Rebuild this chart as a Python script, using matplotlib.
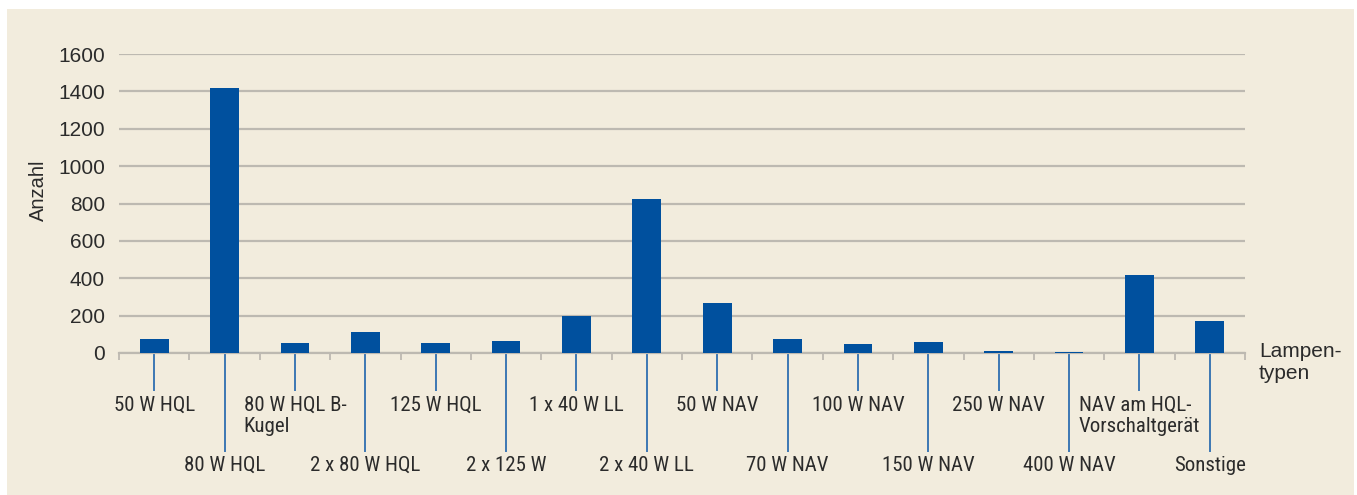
import matplotlib
matplotlib.use("Agg")
import matplotlib.pyplot as plt
from matplotlib.patches import Rectangle
from matplotlib.transforms import blended_transform_factory
from matplotlib import font_manager

categories = ["50 W HQL", "80 W HQL", "80 W HQL B-\nKugel", "2 x 80 W HQL",
              "125 W HQL", "2 x 125 W", "1 x 40 W LL", "2 x 40 W LL",
              "50 W NAV", "70 W NAV", "100 W NAV", "150 W NAV",
              "250 W NAV", "400 W NAV", "NAV am HQL-\nVorschaltgerät", "Sonstige"]
values = [75, 1420, 55, 115, 55, 65, 200, 825, 270, 75, 50, 60, 12, 7, 420, 170]
yticks = [0, 200, 400, 600, 800, 1000, 1200, 1400, 1600]
ylabel = "Anzahl"
xlabel = "Lampen-\ntypen"

names = {f.name for f in font_manager.fontManager.ttflist}
narrow = ["Liberation Sans Narrow"] if "Liberation Sans Narrow" in names else ["Roboto Condensed"] if "Roboto Condensed" in names else ["Liberation Sans"]
regular = ["Liberation Sans", "DejaVu Sans"]

W, H = 1357, 495
fig = plt.figure(figsize=(W / 100, H / 100), dpi=100, facecolor="white")
BG = "#F2ECDD"
fig.patches.append(Rectangle((7 / W, 0), (1354 - 7) / W, (H - 9) / H,
                             transform=fig.transFigure, facecolor=BG,
                             edgecolor="none", zorder=-10))

ax = fig.add_axes([119 / W, (H - 353) / H, (1245 - 119) / W, (353 - 54) / H])
ax.set_facecolor("none")
n = len(categories)
x = list(range(n))
ax.bar(x, values, width=0.41, color="#00509E", zorder=3)
ax.set_xlim(-0.5, n - 0.5)
ax.set_ylim(0, 1600)
ax.set_yticks(yticks)
ax.set_yticklabels([str(v) for v in yticks], family=regular, fontsize=15, color="#2B2B2B")
ax.tick_params(axis="y", length=0, pad=10)
ax.yaxis.grid(True, color="#BDB9B1", lw=1.6, zorder=1)
for s in ["top", "right", "left"]:
    ax.spines[s].set_visible(False)
ax.spines["bottom"].set_color("#BDB9B1")
ax.spines["bottom"].set_linewidth(1.6)
ax.set_xticks([i - 0.5 for i in range(n + 1)])
ax.set_xticklabels([])
ax.tick_params(axis="x", length=5, width=1.3, color="#BDB9B1", direction="out")

trans = blended_transform_factory(ax.transData, fig.transFigure)
base = (H - 353) / H
for i, lab in enumerate(categories):
    upper = (i % 2 == 0)
    yend = (H - 390) / H if upper else (H - 451) / H
    ax.plot([i, i], [base, yend], transform=trans, color="#3D77B3",
            lw=1.4, clip_on=False, zorder=2)
    ytxt = (H - 396) / H if upper else (H - 456) / H
    ax.text(i, ytxt, lab, transform=trans, ha="center", va="top",
            multialignment="left", family=narrow + ["DejaVu Sans"],
            fontsize=15, color="#2B2B2B", linespacing=1.15)

fig.text(38 / W, (H - 190) / H, ylabel, rotation=90, ha="center", va="center",
         family=regular, fontsize=14.5, color="#2B2B2B")
fig.text(1259 / W, (H - 342) / H, xlabel, ha="left", va="top",
         family=regular, fontsize=15, color="#2B2B2B", linespacing=1.2)

fig.savefig("out.png", dpi=100, facecolor="white")
